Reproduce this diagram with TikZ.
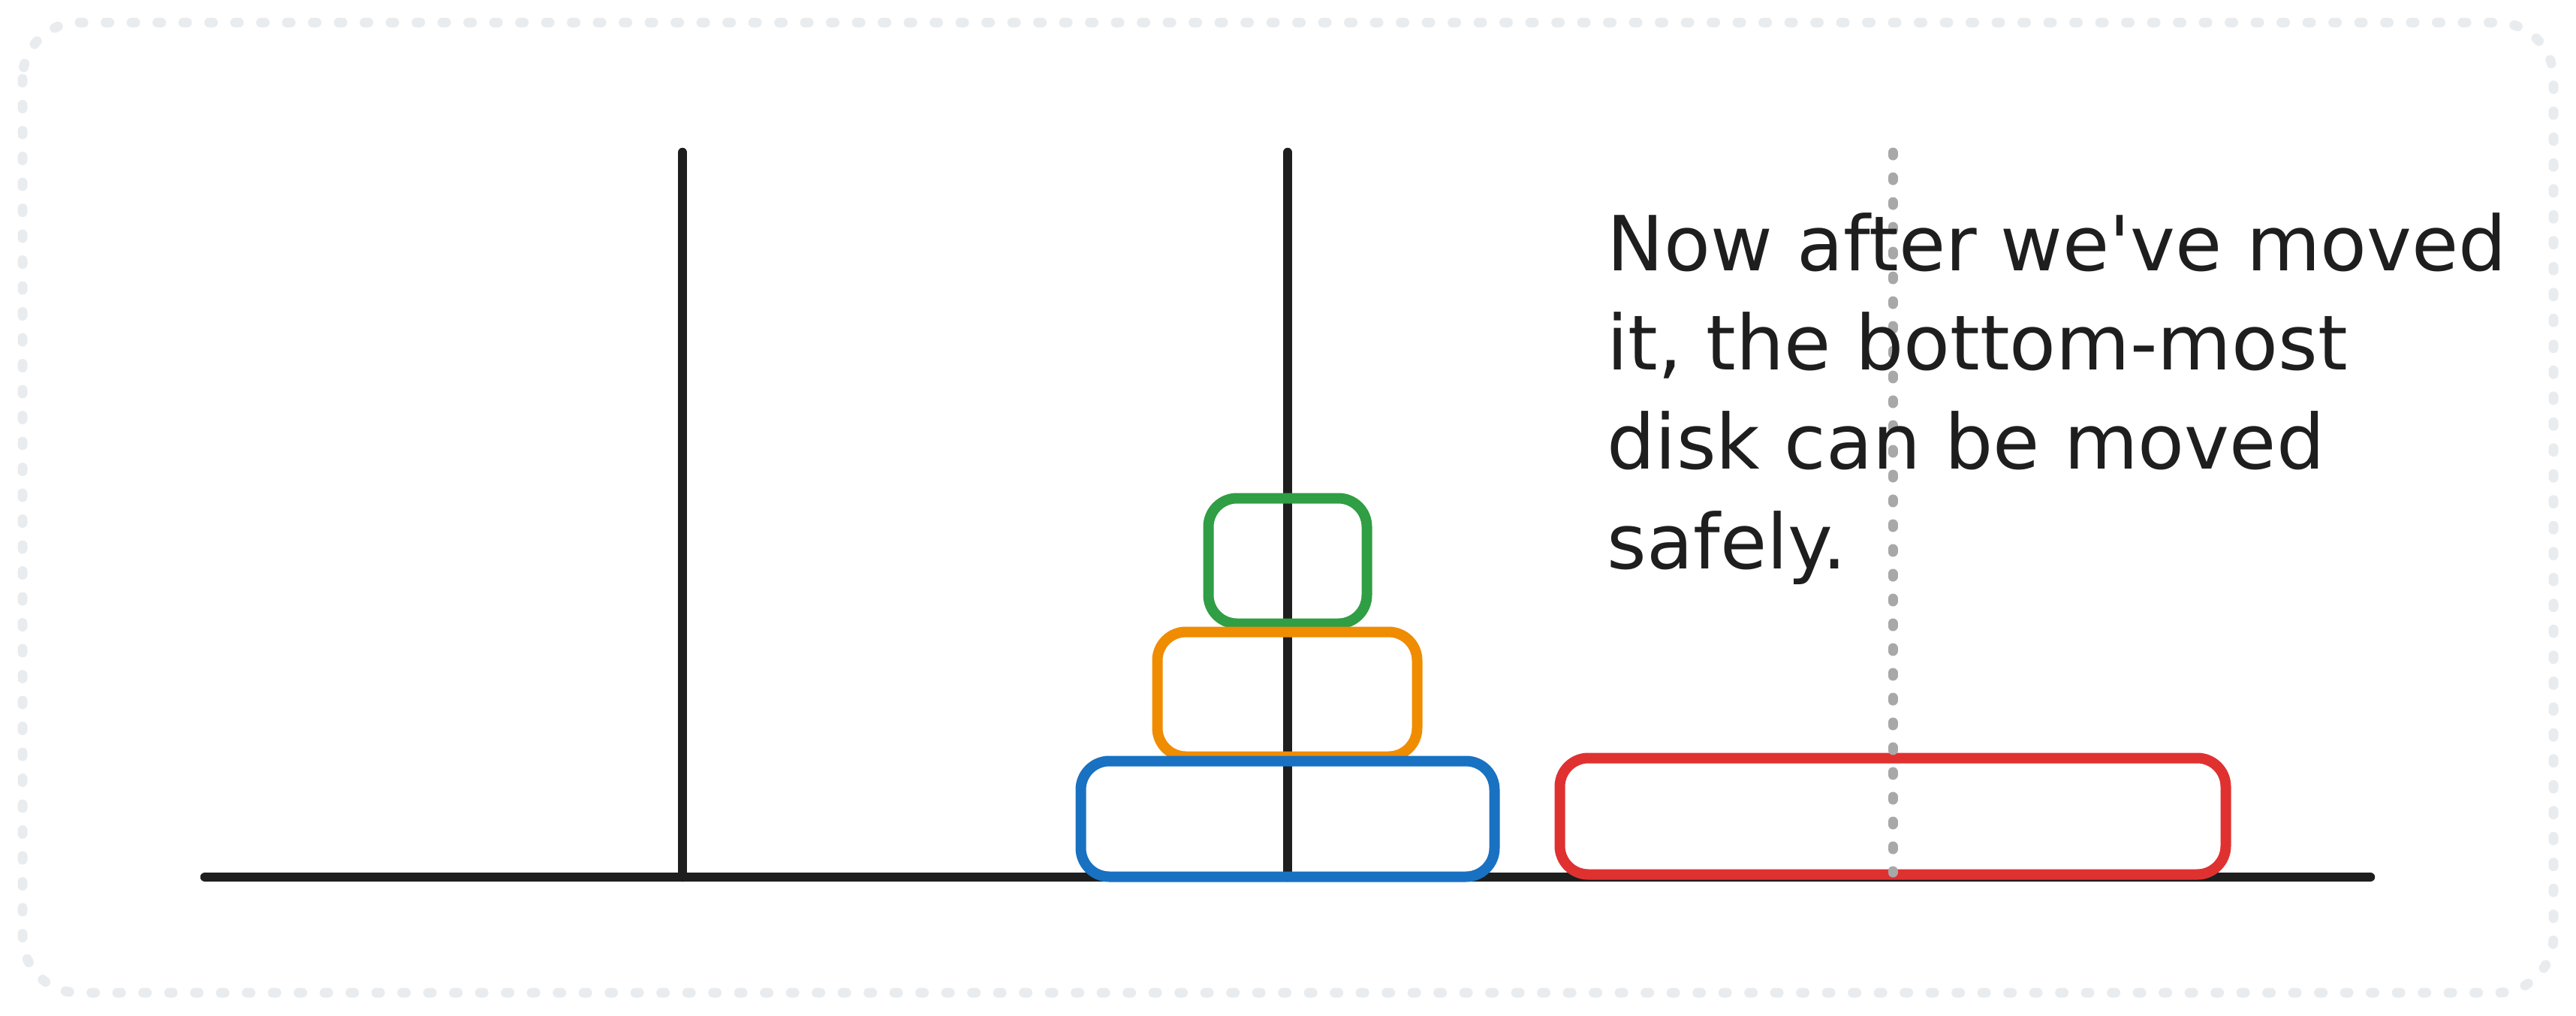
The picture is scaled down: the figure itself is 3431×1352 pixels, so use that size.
\documentclass[tikz,border=0pt]{standalone}
\usepackage{fontspec}
\setmainfont{DejaVu Sans}
\definecolor{ink}{HTML}{1E1E1E}
\definecolor{framegray}{HTML}{E9ECEF}
\definecolor{guidegray}{HTML}{A8A8A8}
\definecolor{diskgreen}{HTML}{2F9E44}
\definecolor{diskorange}{HTML}{F08C00}
\definecolor{diskblue}{HTML}{1971C2}
\definecolor{diskred}{HTML}{E03131}
\tikzset{
  rod/.style={draw=ink,line width=1.25mm,line cap=round},
  disk/.style={line width=1.4mm,rounded corners=3.8mm},
  guide/.style={draw=guidegray,line width=1.3mm,line cap=round,dash pattern=on 0.4mm off 2.9mm},
  frame/.style={draw=framegray,line width=1.3mm,line cap=round,dash pattern=on 0.5mm off 2.95mm,rounded corners=7.5mm},
}
\begin{document}
\begin{tikzpicture}[x=0.1mm,y=-0.1mm]
  \useasboundingbox (0,0) rectangle (3431,1352);
  \draw[frame] (30,30) rectangle (3401,1322);
  % base and rods
  \draw[rod] (273,1168) -- (3157,1168);
  \draw[rod] (909,203) -- (909,1168);
  \draw[rod] (1715,203) -- (1715,1168);
  % disks
  \draw[disk,diskgreen]  (1609.5,663.5)  rectangle (1820.5,830.5);
  \draw[disk,diskorange] (1541.5,841.5)  rectangle (1887.5,1007.5);
  \draw[disk,diskblue]   (1439.5,1013.5) rectangle (1990.5,1167.5);
  \draw[disk,diskred]    (2077.5,1009.5) rectangle (2964.5,1164.5);
  % guide
  \draw[guide] (2521,203) -- (2521,1162);
  \node[anchor=base west,align=left,inner sep=0pt,text=ink,
        font=\fontsize{28.8pt}{37.6pt}\selectfont] (note) at (2140,757)
    {Now after we\textquotesingle ve moved\\it, the bottom-most\\disk can be moved\\safely.};
\end{tikzpicture}
\end{document}
